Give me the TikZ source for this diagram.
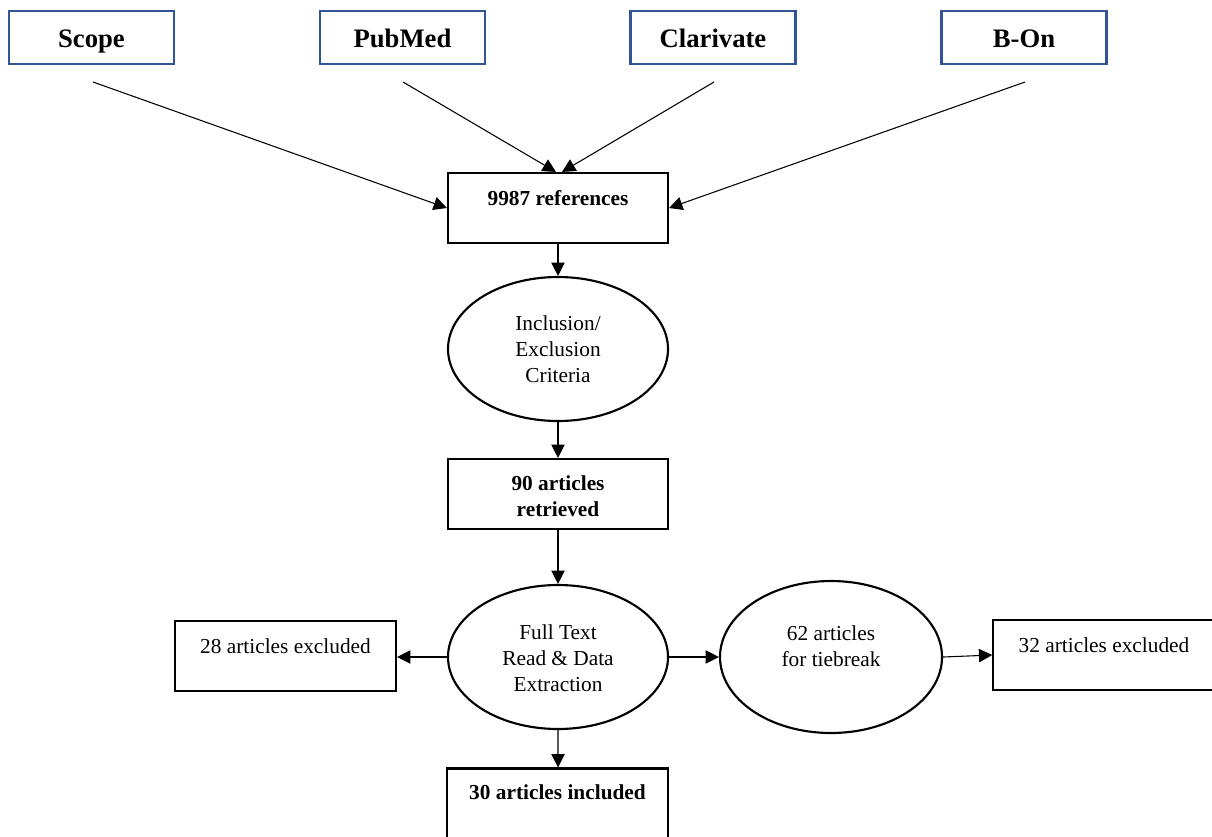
\documentclass[tikz,border=0pt]{standalone}
\usepackage{fontspec}
\setmainfont{Liberation Serif}
\usetikzlibrary{shapes.geometric,arrows.meta}
\definecolor{srcblue}{RGB}{47,85,151}
\begin{document}
\begin{tikzpicture}[x=0.75pt,y=-0.75pt,
  srcbox/.style={draw=srcblue,line width=1.6pt,minimum width=123.75pt,minimum height=39.75pt,inner sep=0pt,text height=16pt,text depth=1pt,font=\fontsize{20}{24}\selectfont\bfseries},
  mainbox/.style={draw=black,line width=1.6pt,minimum width=165pt,minimum height=52.5pt,inner sep=0pt},
  sidebox/.style={draw=black,line width=1.6pt,minimum width=166pt,minimum height=52.5pt,inner sep=0pt},
  oval/.style={draw=black,line width=1.6pt,ellipse,inner sep=0pt},
  btxt/.style={font=\fontsize{16}{19.5}\selectfont\bfseries,align=center,inner sep=0pt},
  rtxt/.style={font=\fontsize{16}{19.5}\selectfont,align=center,inner sep=0pt},
  arr/.style={line width=0.8pt,-{Triangle[length=10pt,width=10pt]}},
  feed/.style={line width=0.8pt,-{Triangle[length=10pt,width=10pt]}}]
\useasboundingbox (0,0) rectangle (1212,836);
\fill[white] (0,0) rectangle (1212,836);
% sources
\node[srcbox] (scope) at (91.5,37.5) {Scope};
\node[srcbox] (pubmed) at (402.5,37.5) {PubMed};
\node[srcbox] (clar) at (713,37.5) {Clarivate};
\node[srcbox] (bon) at (1024,37.5) {B-On};
\coordinate (s1) at (93,82);
\coordinate (s2) at (403,82);
\coordinate (s3) at (714,82);
\coordinate (s4) at (1025,82);
% main chain
\node[mainbox] (refs) at (558,208) {};
\node[btxt] (refst) at (558,198) {9987 references};
\node[oval,minimum width=165pt,minimum height=108pt] (crit) at (558,349) {};
\node[rtxt] (critt) at (558,349) {Inclusion/\\Exclusion\\Criteria};
\node[mainbox] (retr) at (558,494) {};
\node[btxt] (retrt) at (558,496) {90 articles\\retrieved};
\node[oval,minimum width=165pt,minimum height=108pt] (full) at (558,657) {};
\node[rtxt] (fullt) at (558,658) {Full Text\\Read \& Data\\Extraction};
\node[mainbox,minimum width=165.75pt] (incl) at (557.5,803.5) {};
\node[btxt] (inclt) at (557.5,792) {30 articles included};
% side
\node[sidebox,minimum width=165.75pt] (ex28) at (285.5,656) {};
\node[rtxt] (ex28t) at (285.5,646) {28 articles excluded};
\node[oval,minimum width=166.5pt,minimum height=114pt] (tie) at (831,657) {};
\node[rtxt] (tiet) at (831,646) {62 articles\\for tiebreak};
\node[sidebox] (ex32) at (1104,655) {};
\node[rtxt] (ex32t) at (1104,645) {32 articles excluded};
% connectors
\draw[feed] (s1) -- (refs.west);
\draw[feed] (s2) -- ([xshift=-1.5pt]refs.north);
\draw[feed] (s3) -- ([xshift=3pt]refs.north);
\draw[feed] (s4) -- (refs.east);
\draw[arr] (refs.south) -- (crit.north);
\draw[arr] (crit.south) -- (retr.north);
\draw[arr] (retr.south) -- (full.north);
\draw[arr] (full.south) -- ([xshift=0.4pt]incl.north);
\draw[arr] (full.west) -- (ex28.east |- full.west);
\draw[arr] (full.east) -- (tie.west);
\draw[arr] (tie.east) -- (ex32.west);
\end{tikzpicture}
\end{document}
